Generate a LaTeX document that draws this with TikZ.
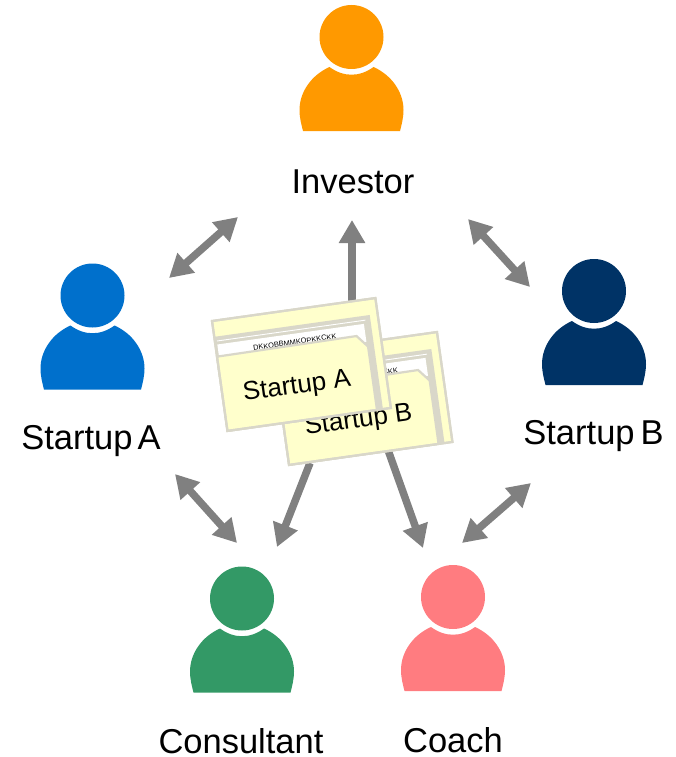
\documentclass[tikz,border=0pt]{standalone}
\usepackage{fontspec}
\setmainfont{Liberation Sans}
\usetikzlibrary{arrows.meta}
\definecolor{folder fill}{HTML}{FFFFCC}
\definecolor{folder line}{HTML}{D9D7C9}
\definecolor{link gray}{HTML}{808080}
\definecolor{investor orange}{HTML}{FF9900}
\definecolor{startup blue}{HTML}{0070CC}
\definecolor{startup navy}{HTML}{003366}
\definecolor{consultant green}{HTML}{339966}
\definecolor{coach pink}{HTML}{FF7C80}

\begin{document}
\begin{tikzpicture}[x=1pt,y=-1pt,
  role/.style={font=\fontsize{34.5}{38}\selectfont,inner sep=0pt},
  link/.style={draw=link gray,line width=7.5pt,-{Triangle[length=23pt,width=25pt]}},
  twoway/.style={link,{Triangle[length=23pt,width=25pt]}-{Triangle[length=23pt,width=25pt]}},
  pics/person/.style={code={
    \fill[#1] (0,0) circle (32pt);
    \fill[#1] (-22,30) .. controls (-8,40.3) and (8,40.3) .. (22,30)
      .. controls (40,38) and (52,55) .. (52,73)
      .. controls (52,81) and (50,88) .. (48.5,94) -- (-48.5,94)
      .. controls (-50,88) and (-52,81) .. (-52,73)
      .. controls (-52,55) and (-40,38) .. (-22,30) -- cycle;
  }},
  pics/folder/.style={code={
    \draw[fill=folder fill,draw=folder line,line width=2.2pt] (0,0) rectangle (165,111);
    \fill[folder line] (0,16) rectangle (157,111);
    \draw[white,line width=0.9pt] (2,20.5) -- (152,20.5);
    \fill[white] (2,24) rectangle (150,42);
    \node[font=\fontsize{7.4}{8}\selectfont,inner sep=0pt,transform shape] at (79,32.5) {DKKOBBMMKOPKKCKK};
    \draw[fill=folder fill,draw=folder line,line width=2.2pt] (0,36) -- (141,35) -- (151,47) -- (151,111) -- (0,111) -- cycle;
    \draw[draw=folder line,line width=2.2pt] (0,0) rectangle (165,111);
    \node[font=\fontsize{26}{30}\selectfont,inner sep=0pt,transform shape] at (75,77) {#1};
  }}]

  \useasboundingbox (0,0) rectangle (675,757);

  \pic at (351.5,37) {person=investor orange};
  \pic at (92.5,295.5) {person=startup blue};
  \pic at (594,291) {person=startup navy};
  \pic at (242,598.5) {person=consultant green};
  \pic at (453,597) {person=coach pink};

  \node[role] (investor) at (353,182) {Investor};
  \node[role] (startup a) at (91,441) {Startup\hspace{5pt}A};
  \node[role] (startup b) at (593.5,436) {Startup\hspace{6pt}B};
  \node[role] (consultant) at (241,741) {Consultant};
  \node[role] (coach) at (453,740) {Coach};

  \coordinate (a1) at (169,278);
  \coordinate (i1) at (238,217);
  \coordinate (i2) at (468,219);
  \coordinate (b1) at (530,287);
  \coordinate (b2) at (531,483);
  \coordinate (h1) at (462,543);
  \coordinate (f1) at (388,450);
  \coordinate (h2) at (423,548);
  \coordinate (f2) at (310,463);
  \coordinate (c1) at (277,547);
  \coordinate (a2) at (175,474);
  \coordinate (c2) at (237,543);
  \coordinate (f3) at (352,305);
  \coordinate (i3) at (352,220);

  \path[twoway] (a1) -- (i1);
  \path[twoway] (i2) -- (b1);
  \path[twoway] (b2) -- (h1);
  \path[twoway] (a2) -- (c2);
  \path[link] (f1) -- (h2);
  \path[link] (f2) -- (c1);
  \path[link] (f3) -- (i3);

  \pic[rotate=8] at (273.6,355) {folder={Startup B}};
  \pic[rotate=8] at (212,321) {folder={Startup A}};
\end{tikzpicture}
\end{document}
